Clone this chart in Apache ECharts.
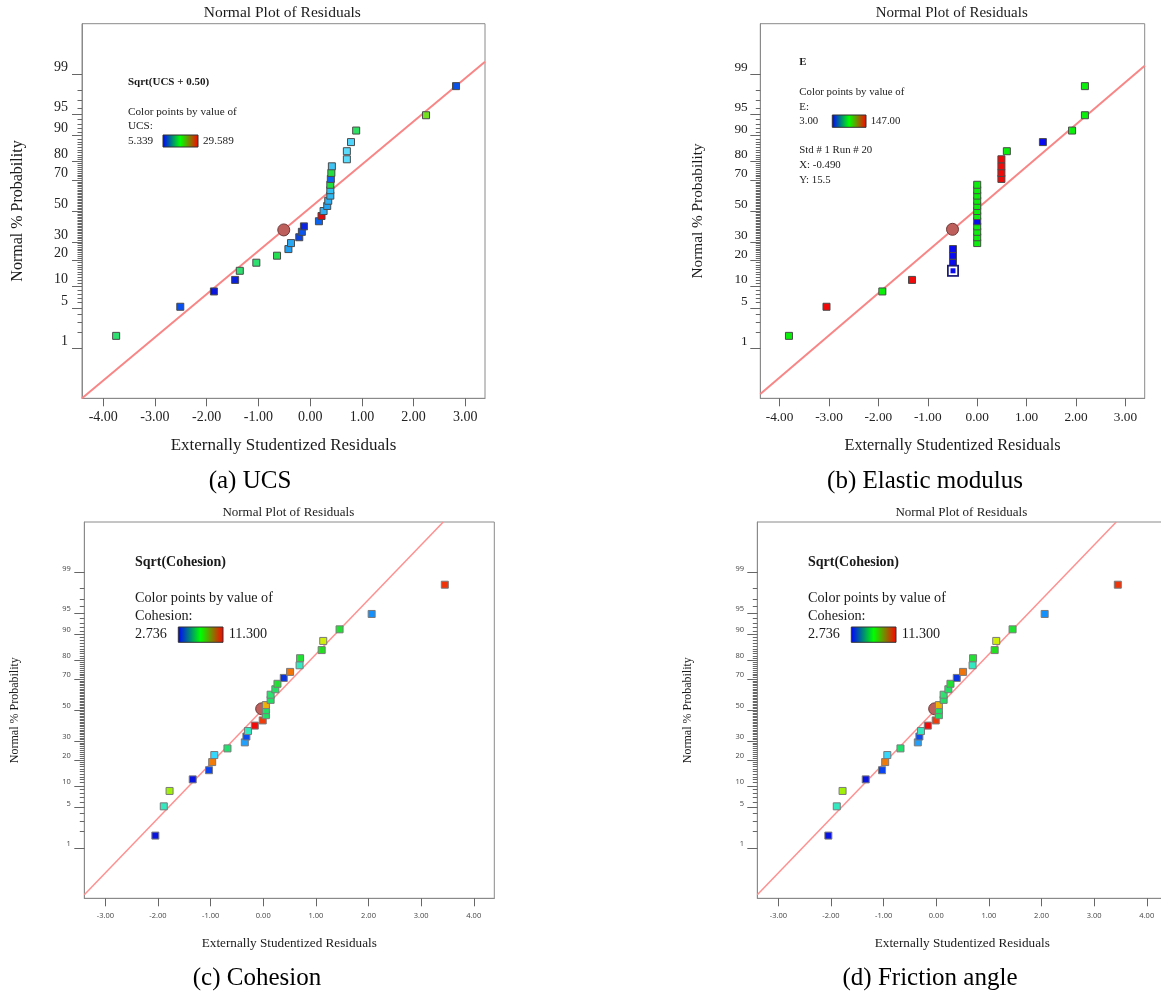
<!DOCTYPE html>
<html><head><meta charset="utf-8">
<script src="https://cdn.jsdelivr.net/npm/echarts@6/dist/echarts.min.js"></script>
<style>html,body{margin:0;padding:0;background:#fff}#c{width:1161px;height:996px}</style>
</head><body><div id="c"></div>
<script>
// ---------------- DATA ----------------
const probTickLabels = [1, 5, 10, 20, 30, 50, 70, 80, 90, 95, 99];
const xTickValuesAB = [-4, -3, -2, -1, 0, 1, 2, 3];
const xTickValuesCD = [-3, -2, -1, 0, 1, 2, 3, 4];

// (a) UCS
const ucsResid = [-3.75, -2.51, -1.86, -1.45, -1.36, -1.04, -0.64, -0.42, -0.37, -0.21, -0.16, -0.12, 0.17, 0.22, 0.26, 0.33, 0.35, 0.39, 0.39, 0.39, 0.40, 0.41, 0.42, 0.71, 0.71, 0.79, 0.89, 2.24, 2.82];
const ucsProb = [1.7, 5.2, 8.6, 12.1, 15.5, 19.0, 22.4, 25.9, 29.3, 32.8, 36.2, 39.7, 43.1, 46.6, 50.0, 53.4, 56.9, 60.3, 63.8, 67.2, 70.7, 74.1, 77.6, 81.0, 84.5, 87.9, 91.4, 94.8, 98.3];
const ucsColour = ['#2ee070', '#0a50f0', '#0a14e0', '#0a20e0', '#2ee070', '#2ee070', '#22e050', '#22a0f2', '#28a8f2', '#0a44e6', '#0a54f0', '#0a24e0', '#0a64f0', '#e00a0a', '#30b0f2', '#22a4f2', '#30b0f2', '#30b8f2', '#30c0f2', '#22e040', '#0a64f0', '#22e040', '#40c4f4', '#5cdcfc', '#5cdcfc', '#50d4fc', '#30e064', '#74e020', '#0a50e6'];
const ucsFitLine = [[-4.41, -3.18], [3.38, 2.535]];
const ucsMarker = [-0.51, 37.4];

// (b) Elastic modulus
const eResid = [-3.81, -3.05, -1.92, -1.32, -0.49, -0.49, -0.49, -0.49, 0, 0, 0, 0, 0, 0, 0, 0, 0, 0, 0, 0, 0.49, 0.49, 0.49, 0.49, 0.60, 1.33, 1.92, 2.18, 2.18];
const eProb = [1.7, 5.2, 8.6, 12.1, 15.5, 19.0, 22.4, 25.9, 29.3, 32.8, 36.2, 39.7, 43.1, 46.6, 50.0, 53.4, 56.9, 60.3, 63.8, 67.2, 70.7, 74.1, 77.6, 81.0, 84.5, 87.9, 91.4, 94.8, 98.3];
const eColour = ['#0af00a', '#f00a0a', '#0af00a', '#f00a0a', '#0a0af0', '#0a0af0', '#0a0af0', '#0a0af0', '#0af00a', '#0af00a', '#0af00a', '#0af00a', '#0a0af0', '#0af00a', '#0af00a', '#0af00a', '#0af00a', '#0af00a', '#0af00a', '#0af00a', '#f00a0a', '#f00a0a', '#f00a0a', '#f00a0a', '#0af00a', '#0a0af0', '#0af00a', '#0af00a', '#0af00a'];
const eFitLine = [[-4.39, -3.107], [3.39, 2.467]];
const eMarker = [-0.50, 37.8];
const eSelected = [-0.49, 15.5];

// (c) Cohesion / (d) Friction angle (same plot)
const cohResid = [-2.05, -1.89, -1.78, -1.34, -1.03, -0.97, -0.93, -0.68, -0.35, -0.32, -0.29, -0.16, -0.01, 0.05, 0.05, 0.05, 0.14, 0.14, 0.23, 0.27, 0.39, 0.51, 0.69, 0.70, 1.11, 1.14, 1.45, 2.06, 3.45];
const cohProb = [1.7, 5.2, 8.6, 12.1, 15.5, 19.0, 22.4, 25.9, 29.3, 32.8, 36.2, 39.7, 43.1, 46.6, 50.0, 53.4, 56.9, 60.3, 63.8, 67.2, 70.7, 74.1, 77.6, 81.0, 84.5, 87.9, 91.4, 94.8, 98.3];
const cohColour = ['#0a14e0', '#34e8c0', '#a0f00a', '#0a14e0', '#0a44f0', '#f07a0a', '#34d8fc', '#22e070', '#22a0fc', '#0a4cf0', '#34e8c0', '#f00a0a', '#f03c0a', '#22e064', '#22e064', '#f0b00a', '#22e064', '#30e070', '#22e064', '#22e034', '#0a34e0', '#f0740a', '#34e8c0', '#22e034', '#22e020', '#d0f00a', '#22e034', '#1490fc', '#f0340a'];
const cohFitLine = [[-3.40, -3.12], [3.42, 3.18]];
const cohMarker = [-0.03, 50.9];

const annotA = ['Sqrt(UCS + 0.50)', 'Color points by value of', 'UCS:', '5.339', '29.589'];
const annotB = ['E', 'Color points by value of', 'E:', '3.00', '147.00', 'Std # 1 Run # 20', 'X: -0.490', 'Y: 15.5'];
const annotC = ['Sqrt(Cohesion)', 'Color points by value of', 'Cohesion:', '2.736', '11.300'];
const captions = ['(a) UCS', '(b) Elastic modulus', '(c) Cohesion', '(d) Friction angle'];
const plotTitle = 'Normal Plot of Residuals';
const xName = 'Externally Studentized Residuals';
const yName = 'Normal % Probability';

// ---------------- SCALE (normal probability) ----------------
function probit(p) {
  const a = [-3.969683028665376e+01, 2.209460984245205e+02, -2.759285104469687e+02, 1.383577518672690e+02, -3.066479806614716e+01, 2.506628277459239e+00];
  const b = [-5.447609879822406e+01, 1.615858368580409e+02, -1.556989798598866e+02, 6.680131188771972e+01, -1.328068155288572e+01];
  const c = [-7.784894002430293e-03, -3.223964580411365e-01, -2.400758277161838e+00, -2.549732539343734e+00, 4.374664141464968e+00, 2.938163982698783e+00];
  const d = [7.784695709041462e-03, 3.224671290700398e-01, 2.445134137142996e+00, 3.754408661907416e+00];
  const pl = 0.02425, ph = 1 - pl;
  let q, r;
  if (p < pl) { q = Math.sqrt(-2 * Math.log(p)); return (((((c[0]*q+c[1])*q+c[2])*q+c[3])*q+c[4])*q+c[5]) / ((((d[0]*q+d[1])*q+d[2])*q+d[3])*q+1); }
  if (p <= ph) { q = p - 0.5; r = q*q; return (((((a[0]*r+a[1])*r+a[2])*r+a[3])*r+a[4])*r+a[5])*q / (((((b[0]*r+b[1])*r+b[2])*r+b[3])*r+b[4])*r+1); }
  q = Math.sqrt(-2 * Math.log(1 - p)); return -(((((c[0]*q+c[1])*q+c[2])*q+c[3])*q+c[4])*q+c[5]) / ((((d[0]*q+d[1])*q+d[2])*q+d[3])*q+1);
}
const Z_MIN = -3.18, Z_MAX = 3.18;
const majorZ = probTickLabels.map(t => probit(t / 100));
const minorZ = [];
for (let t = 1; t <= 99; t++) minorZ.push(probit(t / 100));
function probLabel(v) {
  const t = probTickLabels.find(t => Math.abs(probit(t / 100) - v) < 1e-6);
  return t === undefined ? '' : String(t);
}

// ---------------- BUILD ----------------
const SERIF = '"Liberation Serif", "Times New Roman", serif';
const grids = [], xAxes = [], yAxes = [], series = [], graphics = [];

const panels = [
  { left: 82, top: 23.7, width: 403, height: 374.6, xMin: -4.41, xMax: 3.38, xTicks: xTickValuesAB,
    resid: ucsResid, prob: ucsProb, colour: ucsColour, line: ucsFitLine, marker: ucsMarker,
    tickFamily: SERIF, xTickSize: 14, yTickSize: 14, tickColor: '#222', xNameSize: 17, yNameSize: 16,
    xLabelMargin: 12, yLabelMargin: 14, xNameGap: 39, yNameGap: 56, lineW: 2, sqBorder: '#4a4a4a', lineColor: '#f88686' },
  { left: 760.3, top: 23.7, width: 384.4, height: 374.6, xMin: -4.39, xMax: 3.39, xTicks: xTickValuesAB,
    resid: eResid, prob: eProb, colour: eColour, line: eFitLine, marker: eMarker, selected: eSelected,
    tickFamily: SERIF, xTickSize: 13.3, yTickSize: 13.3, tickColor: '#222', xNameSize: 16.3, yNameSize: 15.3,
    xLabelMargin: 12.5, yLabelMargin: 12.6, xNameGap: 39.5, yNameGap: 54.5, lineW: 2, sqBorder: '#4a4a4a', lineColor: '#f88686' },
  { left: 84.3, top: 522, width: 410, height: 376.3, xMin: -3.40, xMax: 4.39, xTicks: xTickValuesCD,
    resid: cohResid, prob: cohProb, colour: cohColour, line: cohFitLine, marker: cohMarker,
    tickFamily: '"Open Sans", sans-serif', xTickSize: 7.5, yTickSize: 7.5, tickColor: '#444', xNameSize: 13.2, yNameSize: 12,
    xLabelMargin: 13.5, yLabelMargin: 13.5, xNameGap: 39, yNameGap: 63, lineW: 1.5, sqBorder: '#7a7a7a', lineColor: '#ff9090' },
  { left: 757.3, top: 522, width: 410, height: 376.3, xMin: -3.40, xMax: 4.39, xTicks: xTickValuesCD,
    resid: cohResid, prob: cohProb, colour: cohColour, line: cohFitLine, marker: cohMarker,
    tickFamily: '"Open Sans", sans-serif', xTickSize: 7.5, yTickSize: 7.5, tickColor: '#444', xNameSize: 13.2, yNameSize: 12,
    xLabelMargin: 13.5, yLabelMargin: 13.3, xNameGap: 39, yNameGap: 63, lineW: 1.5, sqBorder: '#7a7a7a', lineColor: '#ff9090' }
];

panels.forEach((P, i) => {
  grids.push({ left: P.left, top: P.top, width: P.width, height: P.height, show: true,
    borderColor: '#8a8a8a', borderWidth: 1, backgroundColor: 'transparent', containLabel: false, outerBoundsMode: 'none' });
  xAxes.push({ gridIndex: i, type: 'value', position: 'bottom', min: P.xMin, max: P.xMax,
    axisLine: { show: true, onZero: false, lineStyle: { color: '#8a8a8a', width: 1 } },
    axisTick: { show: true, customValues: P.xTicks, length: 8, lineStyle: { color: '#666' } },
    axisLabel: { show: true, customValues: P.xTicks, formatter: v => Number(v).toFixed(2), margin: P.xLabelMargin,
      fontFamily: P.tickFamily, fontSize: P.xTickSize, color: P.tickColor },
    splitLine: { show: false },
    name: xName, nameLocation: 'middle', nameGap: P.xNameGap,
    nameTextStyle: { fontFamily: SERIF, fontSize: P.xNameSize, color: '#1a1a1a' } });
  yAxes.push({ gridIndex: i, type: 'value', position: 'left', min: Z_MIN, max: Z_MAX,
    axisLine: { show: true, onZero: false, lineStyle: { color: '#8a8a8a', width: 1 } },
    axisTick: { show: true, customValues: majorZ, length: 10, lineStyle: { color: '#666' } },
    axisLabel: { show: true, customValues: majorZ, formatter: v => probLabel(v), margin: P.yLabelMargin,
      verticalAlign: 'bottom', fontFamily: P.tickFamily, fontSize: P.yTickSize, color: P.tickColor },
    splitLine: { show: false },
    name: yName, nameLocation: 'middle', nameGap: P.yNameGap,
    nameTextStyle: { fontFamily: SERIF, fontSize: P.yNameSize, color: '#1a1a1a' } });
  yAxes.push({ gridIndex: i, type: 'value', position: 'left', min: Z_MIN, max: Z_MAX,
    axisLine: { show: false, onZero: false },
    axisTick: { show: true, customValues: minorZ, length: 4.5, lineStyle: { color: '#666' } },
    axisLabel: { show: false }, splitLine: { show: false } });

  const yi = 2 * i;
  series.push({ type: 'line', xAxisIndex: i, yAxisIndex: yi, data: P.line, symbol: 'none', silent: true, clip: true,
    lineStyle: { color: P.lineColor, width: P.lineW }, z: 1 });
  series.push({ type: 'scatter', xAxisIndex: i, yAxisIndex: yi, data: [[P.marker[0], probit(P.marker[1] / 100)]],
    symbol: 'circle', symbolSize: 12, itemStyle: { color: '#bf5f5c', borderColor: '#6e3a38', borderWidth: 1, opacity: 1 }, z: 2 });
  series.push({ type: 'scatter', xAxisIndex: i, yAxisIndex: yi,
    data: P.resid.map((x, k) => [x, probit(P.prob[k] / 100)]),
    symbol: 'rect', symbolSize: 7,
    itemStyle: { color: p => P.colour[p.dataIndex], borderColor: P.sqBorder, borderWidth: 1, opacity: 1 }, z: 3 });
  if (P.selected) {
    const sp = [[P.selected[0], probit(P.selected[1] / 100)]];
    series.push({ type: 'scatter', xAxisIndex: i, yAxisIndex: yi, data: sp, symbol: 'rect', symbolSize: 12,
      itemStyle: { color: '#1c1c78', opacity: 1 }, z: 4 });
    series.push({ type: 'scatter', xAxisIndex: i, yAxisIndex: yi, data: sp, symbol: 'rect', symbolSize: 8.5,
      itemStyle: { color: '#ffffff', opacity: 1 }, z: 5 });
    series.push({ type: 'scatter', xAxisIndex: i, yAxisIndex: yi, data: sp, symbol: 'rect', symbolSize: 5,
      itemStyle: { color: '#0a0af0', opacity: 1 }, z: 6 });
  }
});

// ---------------- TEXT / LEGEND GRAPHICS ----------------
function txt(x, y, s, size, opt) {
  opt = opt || {};
  graphics.push({ type: 'text', x: x, y: y, silent: true, z: 100,
    style: { text: s, fill: opt.fill || '#1a1a1a', fontFamily: opt.family || SERIF, fontSize: size,
      fontWeight: opt.bold ? 'bold' : 'normal', align: opt.align || 'left', verticalAlign: 'middle' } });
}
function gradBar(x, y, w, h) {
  graphics.push({ type: 'rect', silent: true, z: 100, shape: { x: x, y: y, width: w, height: h },
    style: { fill: new echarts.graphic.LinearGradient(0, 0, 1, 0, [
      { offset: 0, color: '#0000ff' }, { offset: 0.5, color: '#00ff00' }, { offset: 1, color: '#ff0000' }]),
      stroke: '#333', lineWidth: 1 } });
}

// titles
txt(282.3, 12.7, plotTitle, 15.5, { align: 'center' });
txt(951.7, 12.7, plotTitle, 15, { align: 'center' });
txt(288.3, 512.7, plotTitle, 13, { align: 'center' });
txt(961.3, 512.7, plotTitle, 13, { align: 'center' });

// (a) annotation
txt(128, 82, annotA[0], 11, { bold: true });
txt(128, 112, annotA[1], 11.2);
txt(128, 126.5, annotA[2], 11.2);
txt(128, 141, annotA[3], 11.2);
gradBar(163, 135, 35, 12);
txt(203, 141, annotA[4], 11.2);

// (b) annotation
txt(799.3, 62, annotB[0], 10.8, { bold: true });
txt(799.3, 91.7, annotB[1], 10.8);
txt(799.3, 106.7, annotB[2], 10.8);
txt(799.3, 120.7, annotB[3], 10.8);
gradBar(832.3, 115, 33.7, 12.3);
txt(870.7, 120.7, annotB[4], 10.8);
txt(799.3, 150.3, annotB[5], 10.8);
txt(799.3, 165, annotB[6], 10.8);
txt(799.3, 180, annotB[7], 10.8);

// (c) and (d) annotation
[0, 673].forEach(dx => {
  txt(135 + dx, 562.3, annotC[0], 14, { bold: true });
  txt(135 + dx, 598.3, annotC[1], 14.2);
  txt(135 + dx, 616.7, annotC[2], 14.2);
  txt(135 + dx, 634.3, annotC[3], 14.2);
  gradBar(178.3 + dx, 627, 44.7, 15.3);
  txt(228.7 + dx, 634.3, annotC[4], 14.2);
});

// captions
txt(250, 481, captions[0], 25, { align: 'center', fill: '#000' });
txt(925, 481, captions[1], 25, { align: 'center', fill: '#000' });
txt(257, 978, captions[2], 25, { align: 'center', fill: '#000' });
txt(930, 978, captions[3], 25, { align: 'center', fill: '#000' });

const chart = echarts.init(document.getElementById('c'), null, { renderer: 'canvas' });
chart.setOption({
  animation: false,
  backgroundColor: '#ffffff',
  grid: grids, xAxis: xAxes, yAxis: yAxes, series: series, graphic: graphics
});
</script></body></html>
